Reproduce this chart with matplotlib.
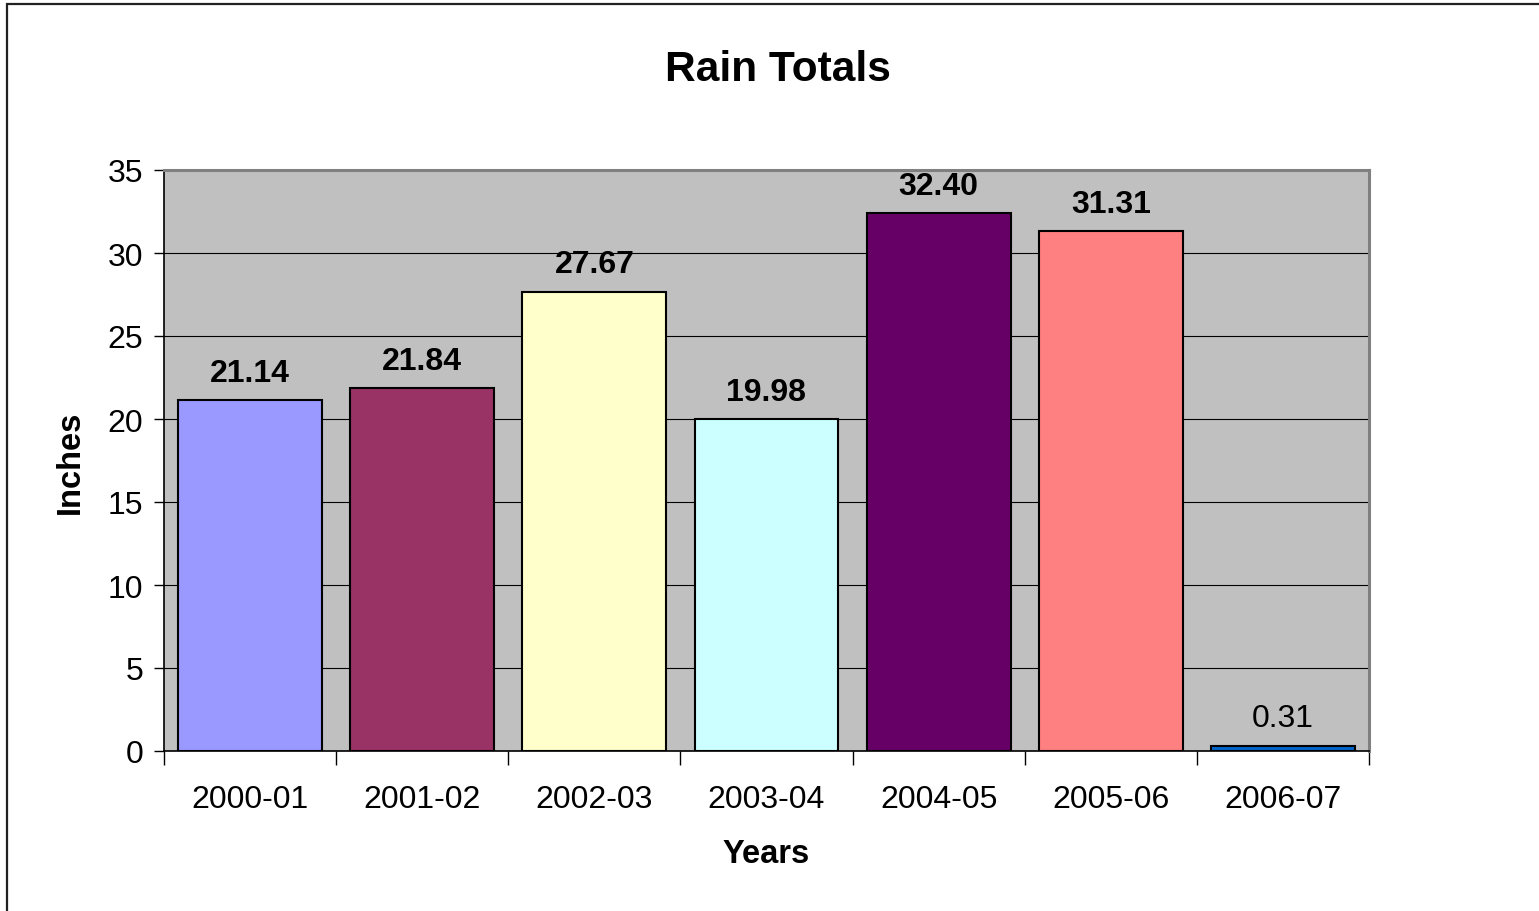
import matplotlib
matplotlib.use("Agg")
import matplotlib.pyplot as plt
from matplotlib.patches import Rectangle

seasons = ["2000-01", "2001-02", "2002-03", "2003-04", "2004-05", "2005-06", "2006-07"]
rain_inches = [21.14, 21.84, 27.67, 19.98, 32.40, 31.31, 0.31]
bar_colors = ["#9999FF", "#993366", "#FFFFCC", "#CCFFFF", "#660066", "#FF8080", "#0066CC"]
bold_labels = [True, True, True, True, True, True, False]
y_ticks = [0, 5, 10, 15, 20, 25, 30, 35]

plt.rcParams["font.family"] = ["Liberation Sans", "DejaVu Sans"]

W, H = 1539, 912
fig = plt.figure(figsize=(W / 100, H / 100), dpi=100)
fig.patch.set_facecolor("white")

# outer chart border (runs off the right and bottom edges)
fig.add_artist(Rectangle((7 / W, -0.1), 1.0, 1.1 - 5 / H, transform=fig.transFigure,
                         fill=False, edgecolor="#222222", linewidth=1.6, clip_on=False))

ax = fig.add_axes([164 / W, 1 - 752 / H, 1205 / W, 581 / H])
ax.set_facecolor("#C0C0C0")

x = list(range(len(seasons)))
ax.set_axisbelow(True)
ax.yaxis.grid(True, color="black", linewidth=0.8)
bars = ax.bar(x, rain_inches, width=0.835, color=bar_colors,
              edgecolor="black", linewidth=1.5, zorder=3)

for xi, v, b in zip(x, rain_inches, bold_labels):
    ax.annotate(f"{v:.2f}", (xi, v), xytext=(0, 9), textcoords="offset points",
                ha="center", va="bottom", fontsize=23,
                fontweight="bold" if b else "normal", zorder=4)

ax.set_xlim(-0.5, len(seasons) - 0.5)
ax.set_ylim(0, 35)
ax.set_yticks(y_ticks)
ax.set_yticklabels([str(t) for t in y_ticks], fontsize=23)
ax.tick_params(axis="y", direction="out", length=7, width=1, pad=8, colors="black")

# category separators as major ticks, labels centered on categories
ax.set_xticks([i - 0.5 for i in range(len(seasons) + 1)])
ax.set_xticklabels([""] * (len(seasons) + 1))
ax.set_xticks(x, minor=True)
ax.set_xticklabels(seasons, minor=True, fontsize=23)
ax.tick_params(axis="x", which="major", direction="out", length=10, width=1)
ax.tick_params(axis="x", which="minor", length=0, pad=24)

for side in ("left", "bottom"):
    ax.spines[side].set_color("black")
    ax.spines[side].set_linewidth(1.2)
for side in ("top", "right"):
    ax.spines[side].set_color("#808080")
    ax.spines[side].set_linewidth(2.2)

fig.text(778 / W, 1 - 70 / H, "Rain Totals", ha="center", va="center",
         fontsize=30.5, fontweight="bold")
fig.text(766 / W, 1 - 855 / H, "Years", ha="center", va="center",
         fontsize=23.5, fontweight="bold")
fig.text(70 / W, 1 - 462 / H, "Inches", ha="center", va="center",
         rotation=90, fontsize=23.5, fontweight="bold")

fig.savefig("out.png", dpi=100)
